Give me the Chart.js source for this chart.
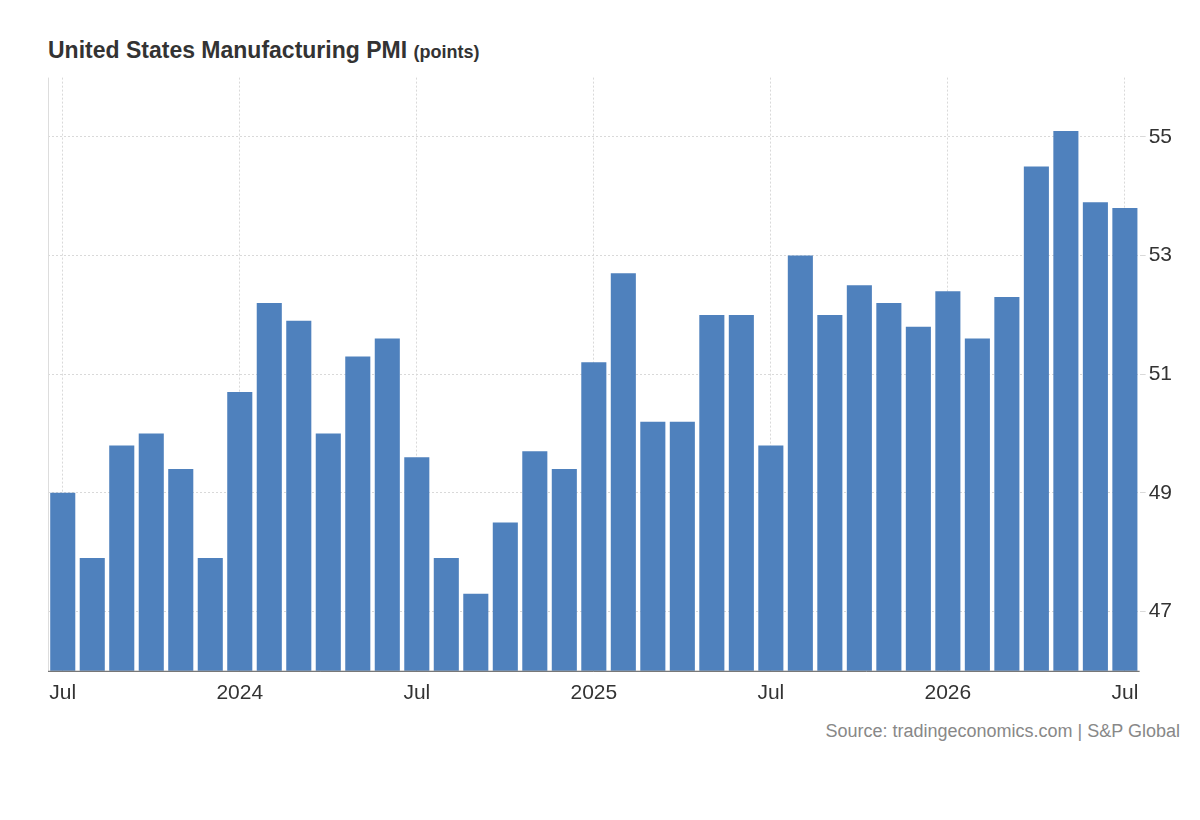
<!DOCTYPE html>
<html>
<head>
<meta charset="utf-8">
<script src="https://cdn.jsdelivr.net/npm/chart.js@4"></script>
<style>
  body { margin:0; background:#fff; font-family:Arial, "Liberation Sans", sans-serif; }
  #title { position:absolute; left:48px; top:37px; font-size:23px; font-weight:bold; color:#333; }
  #title span { font-size:18px; }
  #wrap { position:absolute; left:0; top:62px; width:1175px; height:654px; }
  #source { position:absolute; right:20px; top:721px; font-size:18px; color:#888; }
</style>
</head>
<body>
<div id="title">United States Manufacturing PMI <span>(points)</span></div>
<div id="wrap"><canvas id="pmi"></canvas></div>
<div id="source">Source: tradingeconomics.com | S&amp;P Global</div>
<script>
'use strict';

// months Jul 2023 .. Jul 2026
const months = ['2023-07','2023-08','2023-09','2023-10','2023-11','2023-12',
  '2024-01','2024-02','2024-03','2024-04','2024-05','2024-06','2024-07','2024-08','2024-09','2024-10','2024-11','2024-12',
  '2025-01','2025-02','2025-03','2025-04','2025-05','2025-06','2025-07','2025-08','2025-09','2025-10','2025-11','2025-12',
  '2026-01','2026-02','2026-03','2026-04','2026-05','2026-06','2026-07'];
const pmiValues = [49.0,47.9,49.8,50.0,49.4,47.9,
  50.7,52.2,51.9,50.0,51.3,51.6,49.6,47.9,47.3,48.5,49.7,49.4,
  51.2,52.7,50.2,50.2,52.0,52.0,49.8,53.0,52.0,52.5,52.2,51.8,
  52.4,51.6,52.3,54.5,55.1,53.9,53.8];
const yTicks = [47, 49, 51, 53, 55];

let tickLabel = function(m){
  let parts = m.split('-');
  if (parts[1] === '07') return 'Jul';
  if (parts[1] === '01') return parts[0];
  return '';
};

// solid bottom axis line + light left border
const axisLines = {
  id: 'axisLines',
  afterDatasetsDraw: function(chart){
    let a = chart.chartArea, c = chart.ctx;
    c.save();
    c.strokeStyle = '#ddd'; c.lineWidth = 1;
    c.beginPath(); c.moveTo(a.left + 0.5, a.top); c.lineTo(a.left + 0.5, a.bottom); c.stroke();
    c.strokeStyle = '#555';
    c.beginPath(); c.moveTo(a.left, a.bottom + 0.5); c.lineTo(a.right, a.bottom + 0.5); c.stroke();
    c.restore();
  }
};

new Chart(document.getElementById('pmi').getContext('2d'), {
  type: 'bar',
  data: {
    labels: months,
    datasets: [{ data: pmiValues, backgroundColor: '#4f81bd', barPercentage: 0.85, categoryPercentage: 1.0 }]
  },
  options: {
    responsive: true,
    maintainAspectRatio: false,
    animation: false,
    layout: { padding: { left: 48, top: 0 } },
    plugins: { legend: { display: false }, tooltip: { enabled: false } },
    scales: {
      x: {
        offset: true,
        grid: {
          offset: false,
          color: function(ctx){ return ctx.tick && tickLabel(months[ctx.index]) ? '#d9d9d9' : 'rgba(0,0,0,0)'; },
          drawTicks: false
        },
        border: { display: false, dash: [2, 2] },
        ticks: {
          autoSkip: false, maxRotation: 0, padding: 10,
          color: '#333', font: { size: 21, family: 'Arial' },
          callback: function(v, i){ return tickLabel(months[i]); }
        }
      },
      y: {
        position: 'right',
        min: 46, max: 56,
        afterBuildTicks: function(axis){ axis.ticks = yTicks.map(v => ({ value: v })); },
        grid: { color: '#d9d9d9', drawTicks: true, tickLength: 6 },
        border: { display: false, dash: [2, 2] },
        ticks: { color: '#333', font: { size: 21, family: 'Arial' }, padding: 3 }
      }
    }
  },
  plugins: [axisLines]
});
</script>
</body>
</html>
